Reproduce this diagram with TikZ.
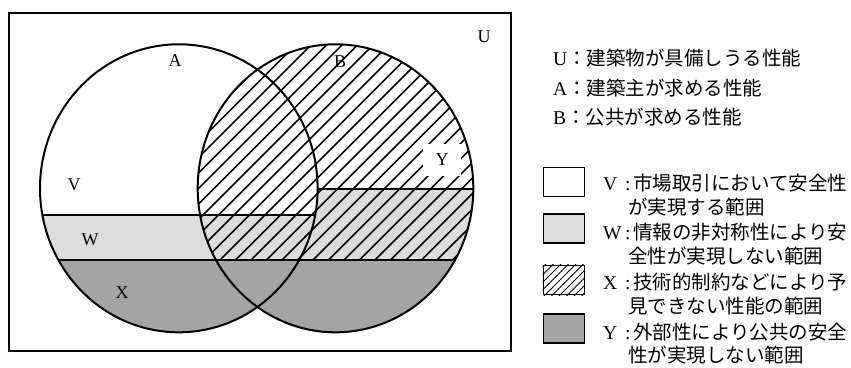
\documentclass[tikz,border=0pt]{standalone}
\usepackage{fontspec}
\setmainfont{Liberation Serif}
\newfontfamily\jp{Noto Sans CJK JP}
\definecolor{lgray}{HTML}{DCDCDC}
\definecolor{dgray}{HTML}{A4A4A4}
\tikzset{
  edge/.style={line width=2pt},
  hatchline/.style={line width=1.7pt},
  lbl/.style={font=\fontsize{18}{20}\selectfont, inner sep=0pt},
  leg/.style={font=\fontsize{19.5}{24}\selectfont, anchor=base west, inner sep=0pt},
  legbox/.style={draw, line width=1.2pt, minimum width=41pt, minimum height=29pt, inner sep=0pt},
}
\newcommand{\legkey}[1]{\makebox[22pt][l]{#1}:\hspace{2.6pt}}
\begin{document}
\begin{tikzpicture}[x=1pt,y=-1pt]
\useasboundingbox (0,0) rectangle (851,367);
\coordinate (cA) at (178.8,188.3);
\coordinate (cB) at (335.5,188.3);
\def\shapeA{(cA) ellipse [x radius=138.8pt, y radius=144pt]}
\def\shapeB{(cB) ellipse [x radius=137.8pt, y radius=144pt]}
% light gray and dark gray in B
\begin{scope}
  \clip \shapeB;
  \fill[lgray] (0,189.3) rectangle (851,260);
  \fill[dgray] (0,260) rectangle (851,367);
\end{scope}
% A regions
\begin{scope}
  \clip \shapeA;
  \fill[white] (0,150) rectangle (851,215);
  \fill[lgray] (0,215) rectangle (851,260);
  \fill[dgray] (0,260) rectangle (851,367);
\end{scope}
% hatch in B above 260
\begin{scope}
  \clip \shapeB;
  \clip (0,0) rectangle (851,260);
  \foreach \c in {0,...,48} {
    \draw[hatchline] ({170+\c*15.5},0) -- ++(-400,400);
  }
\end{scope}
% Y label with white box
\node[lbl, fill=white, minimum width=38pt, minimum height=32pt] (Y) at (442,160) {Y};
% outlines
\draw[edge] \shapeA;
\draw[edge] \shapeB;
\begin{scope}
  \clip \shapeA;
  \draw[edge] (0,215) -- (851,215);
  \draw[edge] (0,260) -- (851,260);
\end{scope}
\begin{scope}
  \clip \shapeB;
  \draw[edge] (317.7,189.3) -- (851,189.3);
  \draw[edge] (0,260) -- (851,260);
\end{scope}
\draw[edge] (9,12.7) rectangle (511,350.5);
% region labels
\node[lbl] (lA) at (175,61) {A};
\node[lbl] (lB) at (340,62) {B};
\node[lbl] (lU) at (484,37) {U};
\node[lbl] (lV) at (74,185) {V};
\node[lbl] (lW) at (90,240) {W};
\node[lbl] (lX) at (122,293) {X};
% top legend
\node[leg] (tU) at (553,65) {U{\jp：建築物が具備しうる性能}};
\node[leg] (tA) at (553,95) {A{\jp：建築主が求める性能}};
\node[leg] (tB) at (553,124) {B{\jp：公共が求める性能}};
% legend boxes
\node[legbox, fill=white] (bV) at (563.8,182) {};
\node[legbox, fill=lgray] (bW) at (563.8,228.5) {};
\node[legbox, fill=white] (bX) at (563.8,280) {};
\begin{scope}
  \clip (bX.south west) rectangle (bX.north east);
  \foreach \c in {0,...,14} {
    \draw[line width=1pt] ({500+\c*7.5},310) -- ++(50,-50);
  }
\end{scope}
\node[legbox] at (bX) {};
\node[legbox, fill=dgray] (bY) at (563.8,328.5) {};
% legend texts
\node[leg] (tV1) at (603,190) {\legkey{V}{\jp 市場取引において安全性}};
\node[leg] (tV2) at (628,214) {\jp が実現する範囲};
\node[leg] (tW1) at (603,239) {\legkey{W}{\jp 情報の非対称性により安}};
\node[leg] (tW2) at (628,263) {\jp 全性が実現しない範囲};
\node[leg] (tX1) at (603,289) {\legkey{X}{\jp 技術的制約などにより予}};
\node[leg] (tX2) at (628,313) {\jp 見できない性能の範囲};
\node[leg] (tY1) at (603,339) {\legkey{Y}{\jp 外部性により公共の安全}};
\node[leg] (tY2) at (628,362) {\jp 性が実現しない範囲};
\end{tikzpicture}
\end{document}
